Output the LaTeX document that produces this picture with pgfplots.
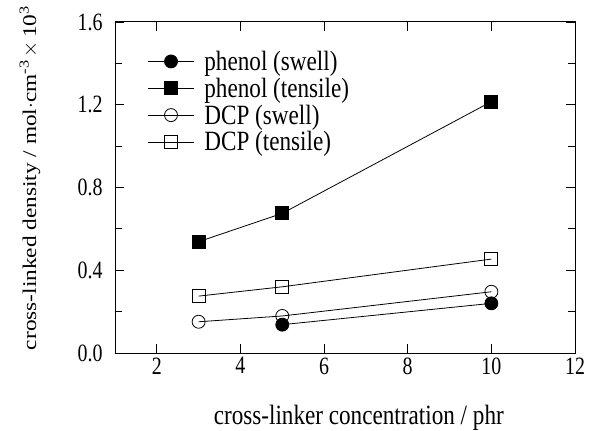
\documentclass[border=0pt]{standalone}
\usepackage{fontspec}
\setmainfont{Liberation Serif}
\newfontfamily\tickfont[FakeStretch=0.8]{Liberation Serif}
\newfontfamily\legfont[FakeStretch=0.83]{Liberation Serif}
\newfontfamily\ylabfont[FakeStretch=1.2]{Liberation Serif}
\usepackage{pgfplots}
\pgfplotsset{compat=1.18}
\begin{document}
\begin{tikzpicture}
\begin{axis}[
  at={(0,0)}, anchor=south west,
  scale only axis, width=460bp, height=331bp,
  xmin=1, xmax=12, ymin=0, ymax=1.6,
  xtick={2,4,6,8,10,12},
  ytick={0,0.4,0.8,1.2,1.6},
  minor y tick num=1,
  tick align=inside,
  major tick length=9bp, minor tick length=7bp,
  axis line style={line width=1pt},
  every tick/.style={black, line width=0.9pt},
  /pgf/number format/assume math mode=true,
  ticklabel style={font=\tickfont\fontsize{25}{27}\selectfont},
  yticklabel style={/pgf/number format/fixed, /pgf/number format/fixed zerofill, /pgf/number format/precision=1, xshift=-9bp},
  xticklabel style={yshift=-1bp},
  xlabel={cross-linker concentration / phr},
  xlabel style={font=\legfont\fontsize{28}{30}\selectfont, at={(axis description cs:0.53,-0.215)}, anchor=base},
  ylabel={cross-linked density / mol$\cdot$cm\textsuperscript{-3}\,$\times$\,10\textsuperscript{3}},
  ylabel style={font=\ylabfont\fontsize{19.5}{22}\selectfont, at={(axis description cs:-0.185,0.529)}, anchor=center},
  legend cell align=left,
  legend style={draw=none, fill=none, at={(axis description cs:0.064,0.925)}, anchor=north west,
    font=\legfont\fontsize{28}{30}\selectfont, row sep=2bp, /tikz/column 1/.style={column sep=8bp}},
  legend image code/.code={\draw[mark repeat=2,mark phase=2] plot coordinates {(0bp,0bp)(23bp,0bp)(46bp,0bp)};},
  every axis plot/.append style={black, line width=0.8pt},
]
\addplot[mark=*, mark size=6.5bp, mark options={fill=black}] coordinates {(5,0.137) (10,0.240)};
\addlegendentry{phenol (swell)}
\addplot[mark=square*, mark size=6.5bp, mark options={fill=black}] coordinates {(3,0.538) (5,0.675) (10,1.215)};
\addlegendentry{phenol (tensile)}
\addplot[mark=o, mark size=6.5bp, mark options={fill=white}] coordinates {(3,0.151) (5,0.179) (10,0.296)};
\addlegendentry{DCP (swell)}
\addplot[mark=square, mark size=6.5bp, mark options={fill=white}] coordinates {(3,0.275) (5,0.320) (10,0.454)};
\addlegendentry{DCP (tensile)}
\end{axis}
\pgfresetboundingbox
\path[use as bounding box] (-115bp,-78bp) rectangle (475bp,353bp);
\end{tikzpicture}
\end{document}
